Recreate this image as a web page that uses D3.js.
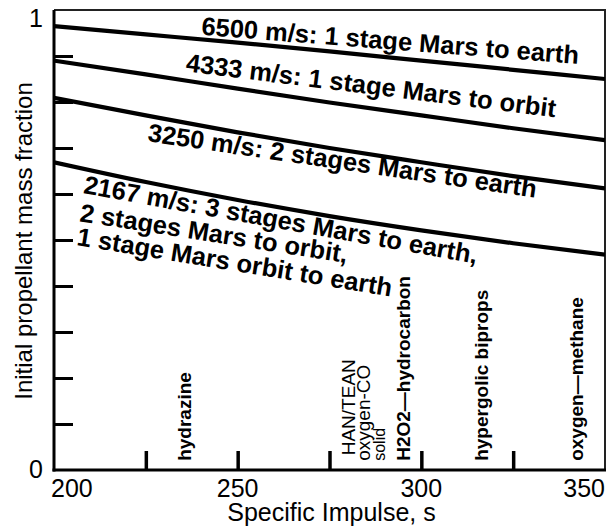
<!DOCTYPE html>
<html>
<head>
<meta charset="utf-8">
<script src="https://d3js.org/d3.v7.min.js"></script>
<style>
  body { margin: 0; background: #fff; }
  svg { display: block; font-family: "Liberation Sans", Arial, Helvetica, sans-serif; }
</style>
</head>
<body>
<svg id="chart" width="607" height="532"></svg>
<script>
// specific impulse (s) where the curves were read
var isp = [200, 225, 250, 275, 300, 325, 350];
// initial propellant mass fraction for each delta-v
var dv6500 = [0.965, 0.947, 0.929, 0.910, 0.890, 0.870, 0.850];
var dv4333 = [0.890, 0.860, 0.829, 0.799, 0.771, 0.743, 0.717];
var dv3250 = [0.809, 0.771, 0.734, 0.700, 0.669, 0.639, 0.612];
var dv2167 = [0.669, 0.626, 0.587, 0.552, 0.521, 0.493, 0.468];

var curveLabels = [
  "6500 m/s: 1 stage Mars to earth",
  "4333 m/s: 1 stage Mars to orbit",
  "3250 m/s: 2 stages Mars to earth",
  "2167 m/s: 3 stages Mars to earth,",
  "2 stages Mars to orbit,",
  "1 stage Mars orbit to earth"
];
var curveLabelIsp = [240.0, 235.7, 225.3, 207.8, 206.8, 206.0];
var curveLabelFrac = [0.946, 0.867, 0.715, 0.602, 0.541, 0.489];
var curveLabelAngle = [4.4, 7.1, 8.3, 10.2, 8.9, 9.3];

var propNames = ["hydrazine", "HAN/TEAN", "oxygen-CO", "solid",
  "H2O2\u2014hydrocarbon", "hypergolic biprops", "oxygen\u2014methane"];
var propIsp = [237.2, 282.0, 286.0, 290.1, 296.9, 318.1, 344.0];
var propBold = [true, false, false, false, true, true, true];

var xTicks = [225, 250, 275, 300, 325];
var xLabels = [200, 250, 300, 350];
var yTicks = [0.1, 0.2, 0.3, 0.4, 0.5, 0.6, 0.7, 0.8, 0.9];
var yLabels = [0, 1];

var svg = d3.select("#chart");
var pl = 54, pr = 605, pt = 10, pb = 470;

var x = d3.scaleLinear().domain([200, 350]).range([pl, pr]);
var y = d3.scaleLinear().domain([0, 1]).range([pb, pt]);

// frame (thin top and right)
svg.append("path")
  .attr("d", "M" + pl + "," + pt + "H" + pr + "V" + pb)
  .attr("fill", "none")
  .attr("stroke", "#222")
  .attr("stroke-width", 2);

// inward ticks
svg.append("g")
  .attr("transform", "translate(" + pl + ",0)")
  .call(d3.axisLeft(y).tickValues(yTicks).tickSize(-19).tickSizeOuter(0).tickFormat(""))
  .call(function(g) {
    g.select(".domain").remove();
    g.selectAll("line").attr("stroke", "#000").attr("stroke-width", 3);
  });

svg.append("g")
  .attr("transform", "translate(0," + pb + ")")
  .call(d3.axisBottom(x).tickValues(xTicks).tickSize(-19).tickSizeOuter(0).tickFormat(""))
  .call(function(g) {
    g.select(".domain").remove();
    g.selectAll("line").attr("stroke", "#000").attr("stroke-width", 3.5);
  });

// the curves
svg.append("clipPath").attr("id", "plot")
  .append("rect").attr("x", pl).attr("y", pt)
  .attr("width", pr - pl).attr("height", pb - pt);

var line = d3.line()
  .x(function(d) { return x(d[0]); })
  .y(function(d) { return y(d[1]); })
  .curve(d3.curveMonotoneX);

[dv6500, dv4333, dv3250, dv2167].forEach(function(s) {
  svg.append("path")
    .attr("clip-path", "url(#plot)")
    .attr("d", line(isp.map(function(v, i) { return [v, s[i]]; })))
    .attr("fill", "none")
    .attr("stroke", "#000")
    .attr("stroke-width", 4.2);
});

// main axes on top
svg.append("line")
  .attr("x1", pl).attr("x2", pl).attr("y1", pt).attr("y2", pb + 1.5)
  .attr("stroke", "#000").attr("stroke-width", 3);
svg.append("line")
  .attr("x1", pl - 1.5).attr("x2", pr + 1).attr("y1", pb).attr("y2", pb)
  .attr("stroke", "#000").attr("stroke-width", 3);

// curve labels
curveLabels.forEach(function(t, i) {
  svg.append("text")
    .attr("transform", "translate(" + x(curveLabelIsp[i]) + "," + y(curveLabelFrac[i]) + ") rotate(" + curveLabelAngle[i] + ")")
    .attr("font-size", 25.5)
    .attr("font-weight", "bold")
    .text(t);
});

// propellant labels
propNames.forEach(function(t, i) {
  svg.append("text")
    .attr("transform", "translate(" + x(propIsp[i]) + "," + y(i == 1 ? 0.032 : 0.02) + ") rotate(-90)")
    .attr("font-size", i == 3 ? 16 : 19)
    .attr("font-weight", propBold[i] ? "bold" : "normal")
    .text(t);
});

// tick labels
svg.selectAll(".xl").data(xLabels).enter().append("text")
  .attr("x", function(d, i) { return i == 0 ? x(d) - 3 : x(d); })
  .attr("y", 497)
  .attr("font-size", 25)
  .attr("text-anchor", function(d, i) { return i == 0 ? "start" : (i == xLabels.length - 1 ? "end" : "middle"); })
  .text(function(d) { return d; });

svg.selectAll(".yl").data(yLabels).enter().append("text")
  .attr("x", 43)
  .attr("y", function(d) { return d == 0 ? y(d) + 8 : y(d) + 17; })
  .attr("font-size", 25)
  .attr("text-anchor", "end")
  .text(function(d) { return d; });

// axis titles
svg.append("text")
  .attr("x", (pl + pr) / 2 + 2)
  .attr("y", 521)
  .attr("font-size", 25)
  .attr("text-anchor", "middle")
  .text("Specific Impulse, s");

svg.append("text")
  .attr("transform", "translate(32," + ((pt + pb) / 2 + 1) + ") rotate(-90)")
  .attr("font-size", 24)
  .attr("text-anchor", "middle")
  .text("Initial propellant mass fraction");
</script>
</body>
</html>
